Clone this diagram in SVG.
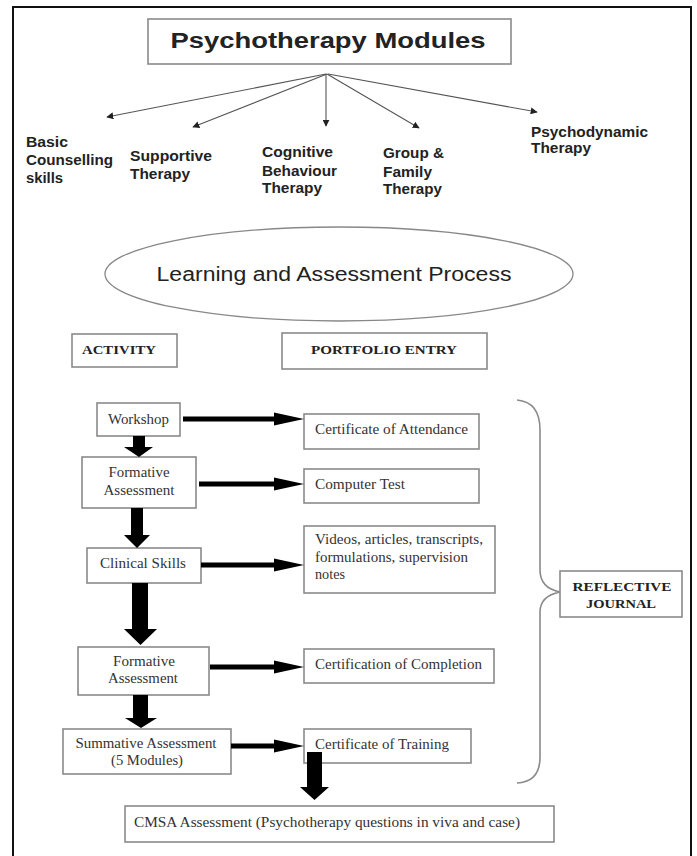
<svg xmlns="http://www.w3.org/2000/svg" width="697" height="856" viewBox="0 0 697 856">
<defs>
<style>
.frame{fill:none;stroke:#111;stroke-width:2}
.box{fill:#fff;stroke:#8a8a8a;stroke-width:1.6}
.ell{fill:#fff;stroke:#888;stroke-width:1.3}
.thin{fill:none;stroke:#555;stroke-width:1.1}
.brace{fill:none;stroke:#8a8a8a;stroke-width:1.6}
.thick{fill:#000;stroke:none}
.sans{font-family:"Liberation Sans",Arial,sans-serif;fill:#222}
.sansb{font-family:"Liberation Sans",Arial,sans-serif;font-weight:bold;fill:#222}
.serif{font-family:"Liberation Serif","Times New Roman",serif;font-size:14px;fill:#333}
.serifb{font-family:"Liberation Serif","Times New Roman",serif;font-size:13px;font-weight:bold;fill:#222}
.lbl{font-size:14px}
.mid{text-anchor:middle}
</style>
<marker id="tri" viewBox="0 0 10 10" refX="9" refY="5" markerWidth="7" markerHeight="7" markerUnits="userSpaceOnUse" orient="auto">
<path d="M0,0 L10,5 L0,10 Z" fill="#222"/>
</marker>
</defs>
<rect width="697" height="856" fill="#fff"/>
<path class="frame" d="M13,856 V7 H691 V856"/>

<g id="title">
<rect class="box" x="148" y="19" width="363" height="45"/>
<text class="sansb mid" x="328" y="48" font-size="22" textLength="315" lengthAdjust="spacingAndGlyphs">Psychotherapy Modules</text>
</g>

<g id="basic">
<text class="sansb lbl" x="26" y="147" textLength="42" lengthAdjust="spacingAndGlyphs">Basic</text>
<text class="sansb lbl" x="26" y="165" textLength="87" lengthAdjust="spacingAndGlyphs">Counselling</text>
<text class="sansb lbl" x="26" y="183" textLength="37" lengthAdjust="spacingAndGlyphs">skills</text>
</g>
<g id="supportive">
<text class="sansb lbl" x="130" y="161" textLength="82" lengthAdjust="spacingAndGlyphs">Supportive</text>
<text class="sansb lbl" x="130" y="179" textLength="60" lengthAdjust="spacingAndGlyphs">Therapy</text>
</g>
<g id="cbt">
<text class="sansb lbl" x="262" y="157" textLength="71" lengthAdjust="spacingAndGlyphs">Cognitive</text>
<text class="sansb lbl" x="262" y="176" textLength="75" lengthAdjust="spacingAndGlyphs">Behaviour</text>
<text class="sansb lbl" x="262" y="193" textLength="60" lengthAdjust="spacingAndGlyphs">Therapy</text>
</g>
<g id="group">
<text class="sansb lbl" x="383" y="158" textLength="61" lengthAdjust="spacingAndGlyphs">Group &amp;</text>
<text class="sansb lbl" x="383" y="177" textLength="49" lengthAdjust="spacingAndGlyphs">Family</text>
<text class="sansb lbl" x="383" y="194" textLength="59" lengthAdjust="spacingAndGlyphs">Therapy</text>
</g>
<g id="psychodynamic">
<text class="sansb lbl" x="531" y="137" textLength="117" lengthAdjust="spacingAndGlyphs">Psychodynamic</text>
<text class="sansb lbl" x="531" y="153" textLength="60" lengthAdjust="spacingAndGlyphs">Therapy</text>
</g>

<g id="process">
<ellipse class="ell" cx="339" cy="274" rx="234" ry="47"/>
<text class="sans mid" x="334" y="281" font-size="20" textLength="355" lengthAdjust="spacingAndGlyphs">Learning and Assessment  Process</text>
</g>

<g id="activity">
<rect class="box" x="72" y="334" width="105" height="33"/>
<text class="serifb mid" x="119" y="354" textLength="74" lengthAdjust="spacingAndGlyphs">ACTIVITY</text>
</g>
<g id="portfolio">
<rect class="box" x="282" y="333" width="205" height="36"/>
<text class="serifb mid" x="384" y="354" textLength="146" lengthAdjust="spacingAndGlyphs">PORTFOLIO ENTRY</text>
</g>

<g id="workshop">
<rect class="box" x="97" y="403" width="83" height="33"/>
<text class="serif mid" x="138.5" y="424" textLength="61" lengthAdjust="spacingAndGlyphs">Workshop</text>
</g>
<g id="formative1">
<rect class="box" x="82" y="457" width="114" height="51"/>
<text class="serif mid" x="139" y="477" textLength="61" lengthAdjust="spacingAndGlyphs">Formative</text>
<text class="serif mid" x="139" y="495" textLength="71" lengthAdjust="spacingAndGlyphs">Assessment</text>
</g>
<g id="clinical">
<rect class="box" x="87" y="548" width="114" height="35"/>
<text class="serif mid" x="143" y="568" textLength="86" lengthAdjust="spacingAndGlyphs">Clinical Skills</text>
</g>
<g id="formative2">
<rect class="box" x="78" y="647" width="131" height="48"/>
<text class="serif mid" x="144" y="666" textLength="62" lengthAdjust="spacingAndGlyphs">Formative</text>
<text class="serif mid" x="143" y="683" textLength="70" lengthAdjust="spacingAndGlyphs">Assessment</text>
</g>
<g id="summative">
<rect class="box" x="63" y="729" width="168" height="45"/>
<text class="serif mid" x="146" y="748" textLength="141" lengthAdjust="spacingAndGlyphs">Summative Assessment</text>
<text class="serif mid" x="147" y="765" textLength="72" lengthAdjust="spacingAndGlyphs">(5 Modules)</text>
</g>

<g id="attendance">
<rect class="box" x="304" y="414" width="175" height="35"/>
<text class="serif" x="315" y="434" textLength="153" lengthAdjust="spacingAndGlyphs">Certificate of Attendance</text>
</g>
<g id="computer">
<rect class="box" x="304" y="469" width="175" height="34"/>
<text class="serif" x="315" y="489" textLength="90" lengthAdjust="spacingAndGlyphs">Computer Test</text>
</g>
<g id="videos">
<rect class="box" x="304" y="526" width="191" height="67"/>
<text class="serif" x="315" y="544" textLength="168" lengthAdjust="spacingAndGlyphs">Videos, articles, transcripts,</text>
<text class="serif" x="315" y="562" textLength="153" lengthAdjust="spacingAndGlyphs">formulations, supervision</text>
<text class="serif" x="315" y="579" textLength="30" lengthAdjust="spacingAndGlyphs">notes</text>
</g>
<g id="completion">
<rect class="box" x="304" y="649" width="190" height="34"/>
<text class="serif" x="315" y="669" textLength="167" lengthAdjust="spacingAndGlyphs">Certification of Completion</text>
</g>
<g id="training">
<rect class="box" x="304" y="729" width="167" height="34"/>
<text class="serif" x="315" y="749" textLength="134" lengthAdjust="spacingAndGlyphs">Certificate of Training</text>
</g>
<g id="cmsa">
<rect class="box" x="125" y="806" width="429" height="36"/>
<text class="serif" x="134" y="827" textLength="386" lengthAdjust="spacingAndGlyphs">CMSA  Assessment (Psychotherapy questions in viva and case)</text>
</g>
<g id="reflective">
<rect class="box" x="560" y="571" width="122" height="46"/>
<text class="serifb mid" x="622" y="591" textLength="99" lengthAdjust="spacingAndGlyphs">REFLECTIVE</text>
<text class="serifb mid" x="621" y="608" textLength="70" lengthAdjust="spacingAndGlyphs">JOURNAL</text>
</g>

<g id="connectors">
<line class="thin" x1="326" y1="74" x2="107" y2="117" marker-end="url(#tri)"/>
<line class="thin" x1="327" y1="74" x2="193" y2="127" marker-end="url(#tri)"/>
<line class="thin" x1="326" y1="74" x2="326" y2="126" marker-end="url(#tri)"/>
<line class="thin" x1="327" y1="74" x2="419" y2="128" marker-end="url(#tri)"/>
<line class="thin" x1="328" y1="74" x2="537" y2="112" marker-end="url(#tri)"/>

<path class="thick" d="M183,416.5 H274 V412.5 L304,419 L274,425.5 V421.5 H183 Z"/>
<path class="thick" d="M199,481.5 H274 V477.5 L304,484 L274,490.5 V486.5 H199 Z"/>
<path class="thick" d="M201,562.5 H274 V558.5 L304,565 L274,571.5 V567.5 H201 Z"/>
<path class="thick" d="M210,664.5 H274 V660.5 L304,667 L274,673.5 V669.5 H210 Z"/>
<path class="thick" d="M231,743.5 H274 V739.5 L304,746 L274,752.5 V748.5 H231 Z"/>

<path class="thick" d="M133,436 H145 V447 H153 L139,457 L124,447 H133 Z"/>
<path class="thick" d="M131,508 H143 V535 H150 L137,548 L124,535 H131 Z"/>
<path class="thick" d="M132,583 H148 V629 H157 L140.5,645 L124,629 H132 Z"/>
<path class="thick" d="M133,695 H148 V718 H157 L141,728 L125,718 H133 Z"/>
<path class="thick" d="M307,752 H322 V787 H329 L314.5,800 L300,787 H307 Z"/>

<path class="brace" d="M517,400 Q540,402 540,430 V570 Q540,588 560,592 Q540,596 540,612 V757 Q540,782 517,783"/>
</g>
</svg>
